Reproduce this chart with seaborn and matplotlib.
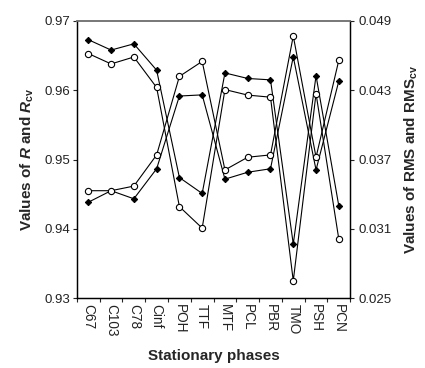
import pandas as pd
import matplotlib
matplotlib.use("Agg")
import matplotlib.pyplot as plt
import seaborn as sns

phases = ["C67", "C103", "C78", "Cinf", "POH", "TTF", "MTF", "PCL", "PBR", "TMO", "PSH", "PCN"]
R = [0.9673, 0.9658, 0.9667, 0.9629, 0.9474, 0.9451, 0.9625, 0.9617, 0.9615, 0.9378, 0.9621, 0.9433]
R_cv = [0.9653, 0.9638, 0.9648, 0.9604, 0.9432, 0.9401, 0.9601, 0.9593, 0.9590, 0.9325, 0.9595, 0.9385]
RMS = [0.0333, 0.0343, 0.0336, 0.0362, 0.0425, 0.0426, 0.0353, 0.0359, 0.0362, 0.0459, 0.0361, 0.0438]
RMS_cv = [0.0343, 0.0343, 0.0347, 0.0374, 0.0442, 0.0455, 0.0361, 0.0372, 0.0374, 0.0477, 0.0372, 0.0456]

sns.set_style("ticks")
plt.rcParams["font.family"] = ["Liberation Sans", "DejaVu Sans"]
plt.rcParams["mathtext.fontset"] = "custom"
plt.rcParams["mathtext.rm"] = "Liberation Sans:bold"
plt.rcParams["mathtext.it"] = "Liberation Sans:italic:bold"
plt.rcParams["mathtext.bf"] = "Liberation Sans:bold"

df = pd.DataFrame({"pos": range(len(phases)), "phase": phases,
                   "R": R, "R_cv": R_cv, "RMS": RMS, "RMS_cv": RMS_cv})

fig = plt.figure(figsize=(4.25, 3.68), dpi=100)
ax = fig.add_axes([0.181, 0.190, 0.643, 0.753])
ax2 = ax.twinx()

filled = dict(color="black", lw=0.8, marker="D", markersize=3.2, markerfacecolor="black",
              markeredgecolor="black")
hollow = dict(color="black", lw=0.8, marker="o", markersize=4.5, markerfacecolor="white",
              markeredgecolor="black", markeredgewidth=0.8)

sns.lineplot(data=df, x="pos", y="R", ax=ax, **filled)
sns.lineplot(data=df, x="pos", y="R_cv", ax=ax, **hollow)
sns.lineplot(data=df, x="pos", y="RMS", ax=ax2, **filled)
sns.lineplot(data=df, x="pos", y="RMS_cv", ax=ax2, **hollow)

ax.set_xlim(-0.5, len(phases) - 0.5)
ax.set_ylim(0.93, 0.97)
ax.set_yticks([0.93, 0.94, 0.95, 0.96, 0.97])
ax.set_yticklabels(["0.93", "0.94", "0.95", "0.96", "0.97"])
ax2.set_ylim(0.025, 0.049)
ax2.set_yticks([0.025, 0.031, 0.037, 0.043, 0.049])
ax2.set_yticklabels(["0.025", "0.031", "0.037", "0.043", "0.049"])

ax.set_xticks(range(len(phases)))
ax.set_xticklabels(phases, rotation=-90, fontsize=9.8, color="#222222")
ax.set_xticks([i - 0.5 for i in range(len(phases) + 1)], minor=True)
ax.tick_params(axis="x", which="major", length=0, pad=4)
ax.tick_params(axis="x", which="minor", length=3, direction="out", width=0.8)
ax.tick_params(axis="y", labelsize=9.5, length=3, direction="out", width=0.8, pad=2, labelcolor="#222222")
ax2.tick_params(axis="y", labelsize=9.5, length=3, direction="out", width=0.8, pad=3, labelcolor="#222222")

ax.set_xlabel("Stationary phases", fontsize=11, fontweight="bold", labelpad=9)
ax.set_ylabel(r"Values of $R$ and $R_{\mathrm{cv}}$", fontsize=11, fontweight="bold", labelpad=6)
ax2.set_ylabel(r"Values of RMS and RMS$_{\mathrm{cv}}$", fontsize=11, fontweight="bold", labelpad=8)

for a in (ax, ax2):
    for s in ("left", "right", "bottom"):
        a.spines[s].set_visible(True)
        a.spines[s].set_color("black")
        a.spines[s].set_linewidth(0.9)
    a.spines["top"].set_visible(True)
    a.spines["top"].set_color("#777777")
    a.spines["top"].set_linewidth(1.2)

fig.savefig("out.png", dpi=100)
